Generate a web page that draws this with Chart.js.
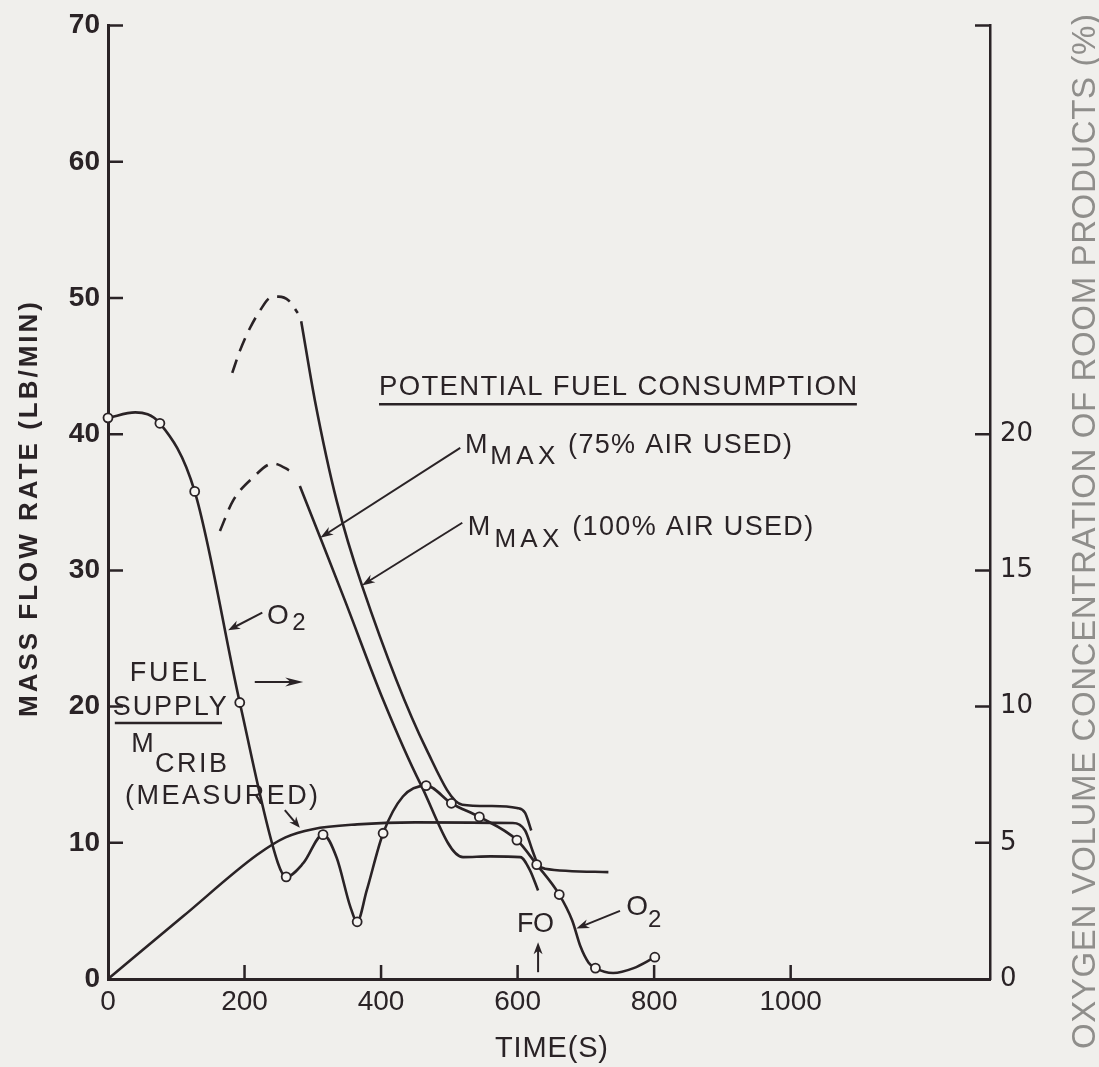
<!DOCTYPE html>
<html>
<head>
<meta charset="utf-8">
<script src="https://cdn.jsdelivr.net/npm/chart.js@4.4.1/dist/chart.umd.min.js"></script>
<style>
  html, body { margin: 0; padding: 0; background: #f0efec; }
  canvas { display: block; }
</style>
</head>
<body>
<canvas id="chart" width="1099" height="1067"></canvas>
<script>
const ink = "#2a2326";
const paper = "#f0efec";
const face = '"Liberation Sans", Arial, Helvetica, sans-serif';

// axes
const timeMax = 1292;
const rateMax = 70;
const o2Max = 35;
const timeTicks = [0, 200, 400, 600, 800, 1000];
const rateTicks = [0, 10, 20, 30, 40, 50, 60, 70];
const o2Ticks = [0, 5, 10, 15, 20, 35];

// O2 readings (open circles), % by volume
const o2Time = [0, 76, 127, 193, 261, 315, 365, 403, 466, 503, 544, 599, 628, 661, 714, 801];
const o2Pct = [20.6, 20.4, 17.9, 10.15, 3.75, 5.3, 2.1, 5.35, 7.1, 6.45, 5.95, 5.1, 4.2, 3.1, 0.4, 0.8];

// O2 curve drawn through the readings
const o2LineTime = [0, 40, 76, 127, 193, 249, 261, 286, 315, 335, 355, 365, 379, 403, 432, 466, 503, 544, 599, 628, 661, 680, 692, 704, 714, 740, 770, 801];
const o2LinePct = [20.6, 20.8, 20.4, 17.9, 10.15, 4.25, 3.75, 4.25, 5.3, 4.45, 2.65, 2.1, 3.25, 5.35, 6.7, 7.1, 6.45, 5.95, 5.1, 4.2, 3.1, 2.15, 1.2, 0.6, 0.4, 0.22, 0.4, 0.8];

// M crib (measured), lb/min
const cribTime = [0, 110, 218, 260, 300, 365, 450, 593, 611, 622, 630, 640, 733];
const cribRate = [0, 4.6, 9.1, 10.4, 11.0, 11.35, 11.5, 11.45, 10.9, 9.4, 8.4, 8.1, 7.85];

// M max, 100% air used: dashed estimate, then solid
const max100EstTime = [182, 193, 208, 223, 237, 250, 265, 278];
const max100EstRate = [44.5, 46.1, 47.8, 49.1, 50.0, 50.1, 49.8, 48.9];
const max100Time = [283, 303, 335, 372, 467, 519, 560, 599, 611, 620];
const max100Rate = [48.3, 42.5, 35.1, 28.9, 16.8, 12.8, 12.7, 12.55, 12.2, 10.9];

// M max, 75% air used: dashed estimate, then solid
const max75EstTime = [164, 183, 212, 242, 271];
const max75EstRate = [32.9, 35.1, 36.8, 37.85, 37.2];
const max75Time = [281, 311, 347, 403, 457, 520, 560, 604, 618, 630];
const max75Rate = [36.2, 32.4, 27.8, 20.5, 14.4, 8.95, 9.0, 8.95, 8.0, 6.5];

const pts = (xs, ys) => xs.map((t, i) => ({ x: t, y: ys[i] }));

// lettering placed in data units (time s, lb/min)
const notes = [
  { text: "POTENTIAL FUEL CONSUMPTION", t: 397, v: 42.85, size: 27.5, width: 478 },
  { text: "M", t: 523, v: 38.6, size: 27 },
  { text: "MAX", t: 560, v: 37.8, size: 26, width: 65 },
  { text: "(75% AIR USED)", t: 674, v: 38.6, size: 27, width: 224 },
  { text: "M", t: 527, v: 32.6, size: 27 },
  { text: "MAX", t: 566, v: 31.7, size: 26, width: 65 },
  { text: "(100% AIR USED)", t: 680, v: 32.6, size: 27, width: 241 },
  { text: "O", t: 233, v: 26.1, size: 28 },
  { text: "2", t: 270, v: 25.6, size: 24 },
  { text: "FUEL", t: 32, v: 21.9, size: 27, width: 77 },
  { text: "SUPPLY", t: 7, v: 19.4, size: 27, width: 114 },
  { text: "M", t: 34, v: 16.65, size: 27 },
  { text: "CRIB", t: 69, v: 15.2, size: 27, width: 72 },
  { text: "(MEASURED)", t: 25, v: 12.85, size: 27, width: 193 },
  { text: "FO", t: 599, v: 3.45, size: 27, width: 37 },
  { text: "O", t: 759, v: 4.7, size: 28 },
  { text: "2", t: 791, v: 3.8, size: 24 },
];

const underlines = [
  { t0: 397, t1: 1097, v: 42.2 },
  { t0: 10, t1: 167, v: 18.8 },
];

const arrows = [
  { from: [516, 39.0], to: [311, 32.4], head: 13 },
  { from: [519, 33.5], to: [372, 28.9], head: 13 },
  { from: [226, 26.9], to: [176, 25.6], head: 12 },
  { from: [215, 21.8], to: [286, 21.8], head: 18 },
  { from: [259, 12.4], to: [281, 11.1], head: 11 },
  { from: [630, 0.5], to: [630, 2.7], head: 12 },
  { from: [750, 5.0], to: [686, 3.7], head: 13 },
];

// letter-spaced text, left edge at x
function spaced(ctx, text, x, y, font, width) {
  ctx.font = font;
  ctx.textAlign = "left";
  if ("letterSpacing" in ctx) ctx.letterSpacing = "0px";
  const w = ctx.measureText(text).width;
  if (width && text.length > 1) {
    if ("letterSpacing" in ctx) {
      ctx.letterSpacing = (width - w) / (text.length - 1) + "px";
      ctx.fillText(text, x, y);
      ctx.letterSpacing = "0px";
    } else {
      ctx.save();
      ctx.translate(x, y);
      ctx.scale(width / w, 1);
      ctx.fillText(text, 0, 0);
      ctx.restore();
    }
  } else {
    ctx.fillText(text, x, y);
  }
}

function arrow(ctx, x0, y0, x1, y1, head) {
  const a = Math.atan2(y1 - y0, x1 - x0);
  const c = Math.cos(a), s = Math.sin(a);
  ctx.beginPath();
  ctx.moveTo(x0, y0);
  ctx.lineTo(x1 - c * head * 0.6, y1 - s * head * 0.6);
  ctx.stroke();
  ctx.beginPath();
  ctx.moveTo(x1, y1);
  ctx.lineTo(x1 - c * head + s * 4.5, y1 - s * head - c * 4.5);
  ctx.lineTo(x1 - c * head * 0.7, y1 - s * head * 0.7);
  ctx.lineTo(x1 - c * head - s * 4.5, y1 - s * head + c * 4.5);
  ctx.closePath();
  ctx.fill();
}

const backdrop = {
  id: "backdrop",
  beforeDraw(chart) {
    const c = chart.ctx;
    c.save();
    c.fillStyle = paper;
    c.fillRect(0, 0, chart.width, chart.height);
    c.restore();
  },
};

const figure = {
  id: "figure",
  afterDraw(chart) {
    const { ctx, chartArea: a, scales } = chart;
    const { x, y, y2 } = scales;
    const X = (t) => x.getPixelForValue(t);
    const Y = (v) => y.getPixelForValue(v);

    ctx.save();
    ctx.strokeStyle = ink;
    ctx.fillStyle = ink;

    // tick marks point into the plot
    ctx.lineWidth = 2.5;
    ctx.beginPath();
    x.ticks.forEach((tk) => {
      if (tk.value === 0) return;
      ctx.moveTo(X(tk.value), a.bottom);
      ctx.lineTo(X(tk.value), a.bottom - 14);
    });
    y.ticks.forEach((tk) => {
      if (tk.value === 0) return;
      ctx.moveTo(a.left, Y(tk.value));
      ctx.lineTo(a.left + 15, Y(tk.value));
    });
    y2.ticks.forEach((tk) => {
      if (tk.value === 0) return;
      const py = y2.getPixelForValue(tk.value);
      ctx.moveTo(a.right, py);
      ctx.lineTo(a.right - 15, py);
    });
    ctx.stroke();

    // labels and arrows
    ctx.textBaseline = "alphabetic";
    notes.forEach((n) => {
      spaced(ctx, n.text, X(n.t), Y(n.v), n.size + "px " + face, n.width);
    });
    ctx.lineWidth = 2.4;
    underlines.forEach((u) => {
      ctx.beginPath();
      ctx.moveTo(X(u.t0), Y(u.v));
      ctx.lineTo(X(u.t1), Y(u.v));
      ctx.stroke();
    });
    ctx.lineWidth = 2;
    arrows.forEach((r) => {
      arrow(ctx, X(r.from[0]), Y(r.from[1]), X(r.to[0]), Y(r.to[1]), r.head);
    });

    // axis titles
    ctx.save();
    ctx.translate(37, 510);
    ctx.rotate(-Math.PI / 2);
    spaced(ctx, "MASS FLOW RATE (LB/MIN)", -207, 0, "bold 26px " + face, 415);
    ctx.restore();

    spaced(ctx, "TIME(S)", 495, 1057, "29px " + face, 113);

    ctx.save();
    ctx.fillStyle = "#8f8e8b";
    ctx.translate(1095, 532);
    ctx.rotate(-Math.PI / 2);
    spaced(ctx, "OXYGEN VOLUME CONCENTRATION OF ROOM PRODUCTS (%)", -517, 0, "33px " + face, 1035);
    ctx.restore();

    ctx.restore();
  },
};

const lineStyle = {
  borderColor: ink,
  borderWidth: 2.6,
  pointRadius: 0,
  fill: false,
  cubicInterpolationMode: "monotone",
  clip: false,
  order: 2,
};

const chart = new Chart(document.getElementById("chart").getContext("2d"), {
  type: "line",
  data: {
    datasets: [
      { ...lineStyle, label: "O2", data: pts(o2LineTime, o2LinePct), yAxisID: "y2" },
      {
        label: "O2 readings",
        data: pts(o2Time, o2Pct),
        yAxisID: "y2",
        showLine: false,
        pointRadius: 4.5,
        pointBackgroundColor: "#f6f5f2",
        pointBorderColor: ink,
        pointBorderWidth: 1.8,
        clip: false,
        order: 0,
      },
      { ...lineStyle, label: "M crib (measured)", data: pts(cribTime, cribRate), yAxisID: "y" },
      { ...lineStyle, label: "M max 100% (estimated)", data: pts(max100EstTime, max100EstRate), yAxisID: "y", borderDash: [14, 9] },
      { ...lineStyle, label: "M max (100% air used)", data: pts(max100Time, max100Rate), yAxisID: "y" },
      { ...lineStyle, label: "M max 75% (estimated)", data: pts(max75EstTime, max75EstRate), yAxisID: "y", borderDash: [14, 9] },
      { ...lineStyle, label: "M max (75% air used)", data: pts(max75Time, max75Rate), yAxisID: "y" },
    ],
  },
  options: {
    responsive: false,
    animation: false,
    events: [],
    layout: { padding: { top: 25, left: 0, right: 0, bottom: 0 } },
    plugins: { legend: { display: false }, tooltip: { enabled: false } },
    scales: {
      x: {
        type: "linear",
        min: 0,
        max: timeMax,
        afterBuildTicks: (s) => { s.ticks = timeTicks.map((v) => ({ value: v })); },
        afterFit: (s) => { s.height = 88; },
        grid: { drawOnChartArea: false, drawTicks: false },
        border: { display: true, color: ink, width: 3 },
        ticks: { color: ink, padding: 6, maxRotation: 0, font: { family: face, size: 28 }, callback: (v) => String(v) },
      },
      y: {
        position: "left",
        min: 0,
        max: rateMax,
        afterBuildTicks: (s) => { s.ticks = rateTicks.map((v) => ({ value: v })); },
        afterFit: (s) => { s.width = 108; },
        grid: { drawOnChartArea: false, drawTicks: false },
        border: { display: true, color: ink, width: 3 },
        ticks: { color: ink, padding: 8, font: { family: face, size: 28, weight: "bold" }, callback: (v) => String(v) },
      },
      y2: {
        position: "right",
        min: 0,
        max: o2Max,
        afterBuildTicks: (s) => { s.ticks = o2Ticks.map((v) => ({ value: v })); },
        afterFit: (s) => { s.width = 109; },
        grid: { drawOnChartArea: false, drawTicks: false },
        border: { display: true, color: ink, width: 2.5 },
        ticks: {
          color: ink,
          padding: 10,
          font: { family: '"DejaVu Sans", sans-serif', size: 26 },
          callback: (v) => (v <= 20 ? String(v) : ""),
        },
      },
    },
  },
  plugins: [backdrop, figure],
});
</script>
</body>
</html>
